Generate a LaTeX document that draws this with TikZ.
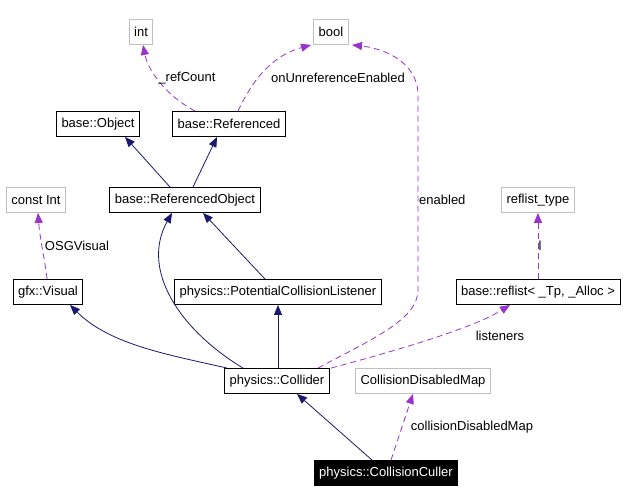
\documentclass[tikz,border=0pt]{standalone}
\usepackage{fontspec}
\setmainfont{Liberation Sans}
\usetikzlibrary{arrows.meta}
\definecolor{inhcol}{RGB}{25,25,112}
\definecolor{usecol}{RGB}{154,50,205}
\definecolor{extcol}{RGB}{191,191,191}
\begin{document}
\begin{tikzpicture}
    [x=1pt,y=-1pt,
     cls/.style={draw=black,fill=white,line width=0.9pt,minimum height=25pt,
       inner xsep=5pt,inner ysep=0pt,font=\fontsize{13}{15}\selectfont},
     ext/.style={cls,draw=extcol},
     cur/.style={cls,draw=black,fill=black,text=white},
     inh/.style={draw=inhcol,line width=0.8pt,-{Triangle[length=10pt,width=8pt]}},
     use/.style={draw=usecol,line width=0.8pt,dash pattern=on 6pt off 4pt,
       -{Triangle[length=10pt,width=8pt]}},
     lbl/.style={inner sep=1pt,font=\fontsize{13}{15}\selectfont}]
  \fill[white] (0,0) rectangle (627,502);
  % classes
  \node[ext] (int) at (141,32) {int};
  \node[ext] (bool) at (331,32) {bool};
  \node[cls] (obj) at (98,124) {base::Object};
  \node[cls] (refd) at (229,124) {base::Referenced};
  \node[ext] (cint) at (36,200) {const Int};
  \node[cls] (refobj) at (185,200) {base::ReferencedObject};
  \node[ext] (rtype) at (538,200) {reflist\_type};
  \node[cls] (visual) at (48,292) {gfx::Visual};
  \node[cls] (pcl) at (278,292) {physics::PotentialCollisionListener};
  \node[cls] (reflist) at (538,292) {base::reflist< \_Tp, \_Alloc >};
  \node[cls] (coll) at (277,381) {physics::Collider};
  \node[ext] (cdm) at (423,381) {CollisionDisabledMap};
  \node[cur] (culler) at (386,473) {physics::CollisionCuller};
  % inheritance
  \draw[inh] ([xshift=-15]refobj.north) -- ([xshift=27]obj.south);
  \draw[inh] ([xshift=8]refobj.north) -- ([xshift=-12]refd.south);
  \draw[inh] ([xshift=-13]pcl.north) -- ([xshift=18]refobj.south);
  \draw[inh] ([xshift=-34]coll.north) .. controls (180,330) and (140,270) .. ([xshift=-13]refobj.south);
  \draw[inh] ([xshift=-50]coll.north) .. controls (170,355) and (110,345) .. ([xshift=22]visual.south);
  \draw[inh] ([xshift=1]coll.north) -- (pcl.south);
  \draw[inh] ([xshift=-14]culler.north) -- ([xshift=20]coll.south);
  % usage
  \draw[use] ([xshift=-34]refd.north) .. controls (165,95) and (148,70) .. ([xshift=2]int.south);
  \node[lbl] (lrc) at (187,78) {\_refCount};
  \draw[use] ([xshift=9]refd.north) .. controls (255,75) and (275,55) .. ([xshift=-20]bool.south);
  \node[lbl] (lour) at (338,78) {onUnreferenceEnabled};
  \draw[use] ([xshift=41]coll.north) .. controls (370,340) and (418,320) .. (418,290)
    -- (418,95) .. controls (418,60) and (380,48) .. ([xshift=21]bool.south);
  \node[lbl,anchor=west] (len) at (418,200) {enabled};
  \draw[use] ([xshift=54]coll.north) .. controls (380,355) and (470,330) .. ([xshift=-28]reflist.south);
  \node[lbl] (lls) at (500,336) {listeners};
  \draw[use] (reflist.north) -- (rtype.south);
  \node[lbl] (ll) at (540,246) {l};
  \draw[use] ([xshift=-1]visual.north) .. controls (45,260) and (40,240) .. ([xshift=2]cint.south);
  \node[lbl] (losg) at (77,246) {OSGVisual};
  \draw[use] ([xshift=5]culler.north) -- ([xshift=-10]cdm.south);
  \node[lbl] (lcdm) at (472,427) {collisionDisabledMap};
\end{tikzpicture}
\end{document}
